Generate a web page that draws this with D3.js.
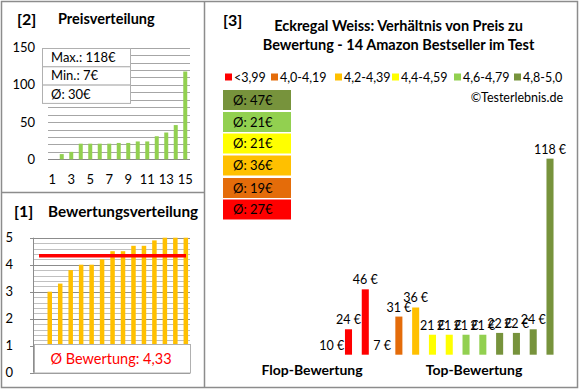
<!DOCTYPE html>
<html><head><meta charset="utf-8">
<script src="https://cdn.jsdelivr.net/npm/d3@7"></script>
<style>
html,body{margin:0;padding:0;background:#fff;}
svg{display:block;font-family:Lato,"Open Sans",sans-serif;}
</style></head>
<body>
<svg id="c" width="580" height="390"></svg>
<script>
// ---------- data ----------
const products = ["P1","P2","P3","P4","P5","P6","P7","P8","P9","P10","P11","P12","P13","P14"];
const prices  = [10, 24, 46, 7, 31, 36, 21, 21, 21, 21, 22, 22, 24, 118];
const ratings = [3.0, 3.3, 3.8, 4.0, 4.0, 4.2, 4.5, 4.5, 4.7, 4.7, 4.9, 5.0, 5.0, 5.0];
const distCats = [1,2,3,4,5,6,7,8,9,10,11,12,13,14,15];
const priceTicks = [0, 50, 100, 150];
const ratingTicks = [0, 1, 2, 3, 4, 5];
const xTickLabels = [1, 3, 5, 7, 9, 11, 13, 15];
const groupLabels = ["<3,99", "4,0-4,19", "4,2-4,39", "4,4-4,59", "4,6-4,79", "4,8-5,0"];
const groupLimits = [3.995, 4.195, 4.395, 4.595, 4.795, 5.01];
const groupColors = ["#FF0000", "#E46C0A", "#FFC000", "#FFFF00", "#92D050", "#77933C"];
const titleLines = ["Eckregal Weiss: Verhältnis von Preis zu", "Bewertung - 14 Amazon Bestseller im Test"];

const svg = d3.select("#c");
const txt = "#000";
const grid = "#a6a6a6";
const frame = "#8c8c8c";
const groupOf = r => groupLimits.findIndex(l => r < l);

// ---------- frames ----------
svg.append("rect").attr("x",1.5).attr("y",1.5).attr("width",576).attr("height",386)
  .attr("fill","none").attr("stroke",frame).attr("stroke-width",1.5);
svg.append("line").attr("x1",2).attr("x2",204).attr("y1",192.5).attr("y2",192.5).attr("stroke",frame).attr("stroke-width",1.5);
svg.append("line").attr("x1",204.5).attr("x2",204.5).attr("y1",2).attr("y2",388).attr("stroke",frame).attr("stroke-width",1.5);

// ---------- [2] Preisverteilung ----------
const sortedPrices = [null].concat(prices.slice().sort((a,b)=>a-b));
const x2 = d3.scalePoint().domain(distCats).range([47.5,190]).padding(0.5);
const y2 = d3.scaleLinear().domain([0,150]).range([159.3,47.7]);
const g2 = svg.append("g");
g2.append("text").attr("x",17).attr("y",25).attr("font-size",16).attr("font-weight","bold").attr("fill",txt).text("[2]");
g2.append("text").attr("x",58).attr("y",24).attr("font-size",14.5).attr("font-weight","bold").attr("fill",txt).text("Preisverteilung");
g2.selectAll(".gl").data(d3.range(0,151,10)).join("line")
  .attr("x1",48).attr("x2",190).attr("y1",d=>Math.round(y2(d))+0.5).attr("y2",d=>Math.round(y2(d))+0.5)
  .attr("stroke",d=>d===0?"#888":grid).attr("stroke-width",1);
g2.selectAll(".yt").data(priceTicks).join("text")
  .attr("x",35).attr("y",d=>y2(d)+4.5).attr("text-anchor","end").attr("font-size",13).attr("fill",txt).text(d=>d);
g2.selectAll(".xt").data(xTickLabels).join("text")
  .attr("x",d=>x2(d)).attr("y",184).attr("text-anchor","middle").attr("font-size",13).attr("fill",txt).text(d=>d);
g2.selectAll(".bar").data(distCats.filter((c,i)=>sortedPrices[i]!=null)).join("rect")
  .attr("x",d=>x2(d)-2).attr("width",4)
  .attr("y",d=>y2(sortedPrices[d-1])).attr("height",d=>y2(0)-y2(sortedPrices[d-1]))
  .attr("fill","#92D050");
// stats box
const pMax = d3.max(prices), pMin = d3.min(prices), pAvg = d3.mean(prices);
const stats = ["Max.: "+pMax+"€", "Min.: "+pMin+"€", "Ø: "+Math.round(pAvg)+"€"];
const sb = g2.append("g");
sb.selectAll("rect").data(stats).join("rect")
  .attr("x",42.5).attr("y",(d,i)=>48.5+i*18.3).attr("width",88).attr("height",18.3)
  .attr("fill","#fff").attr("stroke","#b0b0b0");
sb.selectAll("text").data(stats).join("text")
  .attr("x",51).attr("y",(d,i)=>62+i*18.3).attr("font-size",13).attr("fill",txt).text(d=>d);

// ---------- [1] Bewertungsverteilung ----------
const sortedRatings = [null].concat(ratings.slice().sort((a,b)=>a-b));
const x1 = d3.scalePoint().domain(distCats).range([34,191]).padding(0.5);
const y1 = d3.scaleLinear().domain([0,5]).range([372.7,237.7]);
const g1 = svg.append("g");
g1.append("text").attr("x",14).attr("y",217).attr("font-size",16).attr("font-weight","bold").attr("fill",txt).text("[1]");
g1.append("text").attr("x",48).attr("y",216.5).attr("font-size",15.3).attr("font-weight","bold").attr("fill",txt).text("Bewertungsverteilung");
g1.selectAll(".gl").data(d3.range(0,26)).join("line")
  .attr("x1",33).attr("x2",190).attr("y1",d=>Math.round(y1(d/5))+0.5).attr("y2",d=>Math.round(y1(d/5))+0.5)
  .attr("stroke",d=>d%5===0?"#8c8c8c":"#c0c0c0").attr("stroke-width",1);
g1.append("line").attr("x1",33.5).attr("x2",33.5).attr("y1",y1(5)).attr("y2",y1(0)).attr("stroke","#8c8c8c");
g1.selectAll(".tk").data(ratingTicks).join("line")
  .attr("x1",30).attr("x2",33).attr("y1",d=>Math.round(y1(d))+0.5).attr("y2",d=>Math.round(y1(d))+0.5).attr("stroke","#8c8c8c");
g1.selectAll(".yt").data(ratingTicks).join("text")
  .attr("x",13).attr("y",d=>y1(d)+4.5).attr("text-anchor","end").attr("font-size",13).attr("fill",txt).text(d=>d);
g1.selectAll(".bar").data(distCats.filter((c,i)=>sortedRatings[i]!=null)).join("rect")
  .attr("x",d=>x1(d)-2.2).attr("width",4.5)
  .attr("y",d=>y1(sortedRatings[d-1])).attr("height",d=>y1(0)-y1(sortedRatings[d-1]))
  .attr("fill","#FFC000");
const rAvg = d3.mean(ratings);
g1.append("line").attr("x1",39).attr("x2",186).attr("y1",y1(rAvg)).attr("y2",y1(rAvg))
  .attr("stroke","#FF0000").attr("stroke-width",3.5);
g1.append("rect").attr("x",34.5).attr("y",344.5).attr("width",156).attr("height",28.5)
  .attr("fill","#fff").attr("stroke","#b0b0b0");
g1.append("text").attr("x",111).attr("y",364).attr("text-anchor","middle").attr("font-size",14.5)
  .attr("fill","#FF0000").text("Ø Bewertung: " + rAvg.toFixed(2).replace(".",","));

// ---------- [3] main ----------
const g3 = svg.append("g");
g3.append("text").attr("x",223).attr("y",26).attr("font-size",16).attr("font-weight","bold").attr("fill",txt).text("[3]");
g3.selectAll(".tl").data(titleLines).join("text")
  .attr("x",398.5).attr("y",(d,i)=>31+i*19).attr("text-anchor","middle").attr("font-size",14.5)
  .attr("font-weight","bold").attr("fill",txt).text(d=>d);
// legend
const legX = [225, 271, 335, 392, 454, 514];
const lg = g3.selectAll(".lg").data(groupLabels).join("g").attr("transform",(d,i)=>`translate(${legX[i]},77)`);
lg.append("rect").attr("x",0).attr("y",-3.5).attr("width",7).attr("height",7).attr("fill",(d,i)=>groupColors[i]);
lg.append("text").attr("x",9).attr("y",4.5).attr("font-size",12.5).attr("fill",txt).text(d=>d);
g3.append("text").attr("x",563).attr("y",102).attr("text-anchor","end").attr("font-size",12.5).attr("fill",txt).text("©Testerlebnis.de");
// average boxes (top: best group)
const groupAvg = groupColors.map((c,gi)=>Math.round(d3.mean(prices.filter((p,i)=>groupOf(ratings[i])===gi))));
const boxOrder = [5,4,3,2,1,0];
const boxY = [90, 112, 133.5, 155.5, 178, 199.5];
const bx = g3.selectAll(".bx").data(boxOrder).join("g").attr("transform",(d,i)=>`translate(223,${boxY[i]})`);
bx.append("rect").attr("width",68).attr("height",20).attr("fill",d=>groupColors[d]);
bx.append("text").attr("x",10).attr("y",14.5).attr("font-size",13).attr("fill",txt).text(d=>"Ø: "+groupAvg[d]+"€");
// bars
const x3 = d3.scaleBand().domain(products).range([323.3,558.4]).paddingInner(0.58).paddingOuter(0.29);
const y3 = d3.scaleLinear().domain([10,120]).range([354.7,155]).clamp(true);
g3.selectAll(".b3").data(products).join("rect")
  .attr("x",d=>x3(d)).attr("width",x3.bandwidth())
  .attr("y",(d,i)=>y3(prices[i])).attr("height",(d,i)=>y3(10)-y3(prices[i]))
  .attr("fill",(d,i)=>groupColors[groupOf(ratings[i])]);
g3.selectAll(".l3").data(products).join("text")
  .attr("x",d=>x3(d)+x3.bandwidth()/2).attr("y",(d,i)=>y3(prices[i])-5)
  .attr("text-anchor","middle").attr("font-size",12.5).attr("fill",txt).text((d,i)=>prices[i]+" €");
g3.append("text").attr("x",312).attr("y",375).attr("text-anchor","middle").attr("font-size",14)
  .attr("font-weight","bold").attr("fill",txt).text("Flop-Bewertung");
g3.append("text").attr("x",474).attr("y",375).attr("text-anchor","middle").attr("font-size",14)
  .attr("font-weight","bold").attr("fill",txt).text("Top-Bewertung");
</script>
</body></html>
